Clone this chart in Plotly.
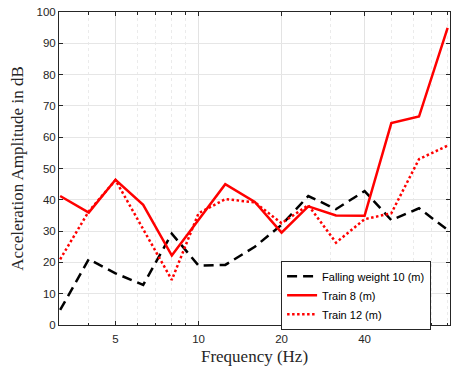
import plotly.graph_objects as go
import math

freq = [3.15, 4, 5, 6.3, 8, 10, 12.5, 16, 20, 25, 31.5, 40, 50, 63, 80]
falling_weight = [4.8, 21, 16.5, 12.8, 29.2, 19, 19.2, 25, 32, 41.2, 37, 42.8, 33.5, 37.3, 30.4]
train8 = [41.2, 35.9, 46.4, 38.4, 22.2, 33.5, 45, 39.3, 29.5, 37.9, 35, 34.9, 64.5, 66.6, 94.9]
train12 = [21, 36.3, 46.3, 30.5, 14.4, 35.7, 40.2, 39.2, 32.5, 38.3, 26.3, 33.8, 35.7, 53, 57.3]

series_names = ["Falling weight 10 (m)", "Train 8 (m)", "Train 12 (m)"]
x_major = [5, 10, 20, 40]
x_minor = [4, 6, 7, 8, 9, 30, 50, 60, 70, 80]
y_ticks = list(range(0, 101, 10))

axc = "#262626"
fig = go.Figure()
fig.add_trace(go.Scatter(x=freq, y=falling_weight, mode="lines", name=series_names[0],
                         line=dict(color="black", width=2.5, dash="10px,6px")))
fig.add_trace(go.Scatter(x=freq, y=train8, mode="lines", name=series_names[1],
                         line=dict(color="#ff0000", width=2.5)))
fig.add_trace(go.Scatter(x=freq, y=train12, mode="lines", name=series_names[2],
                         line=dict(color="#ff0000", width=2.5, dash="2.5px,2.5px")))

fig.update_layout(
    width=451, height=369,
    margin=dict(l=59, r=1, t=12, b=44),
    plot_bgcolor="white", paper_bgcolor="white",
    font=dict(family="Liberation Sans, Arial", size=11, color=axc),
    legend=dict(x=0.568, y=0.095, xanchor="left", yanchor="middle",
                bgcolor="white", bordercolor=axc, borderwidth=1,
                font=dict(family="Liberation Sans, Arial", size=11, color="black"),
                tracegroupgap=0),
    showlegend=True,
)
fig.update_xaxes(
    type="log", range=[math.log10(3.12), math.log10(81.6)],
    tickmode="array", tickvals=x_major, ticktext=[str(v) for v in x_major],
    ticks="inside", ticklen=4, tickcolor=axc, tickwidth=1,
    showline=True, linecolor=axc, linewidth=1, mirror="ticks",
    showgrid=True, gridcolor="#e3e3e3", gridwidth=1,
    minor=dict(tickmode="array", tickvals=x_minor, ticks="inside", ticklen=2.5,
               tickcolor=axc, showgrid=True, gridcolor="#ebebeb", griddash="dot", gridwidth=1),
    zeroline=False,
    ticklabelstandoff=3,
    tickfont=dict(size=11.5, color=axc),
    title=dict(text="Frequency (Hz)", font=dict(family="Liberation Serif, Times New Roman", size=17, color=axc),
               standoff=6),
)
fig.update_yaxes(
    range=[0, 100], tickmode="array", tickvals=y_ticks,
    ticks="inside", ticklen=4, tickcolor=axc, tickwidth=1,
    showline=True, linecolor=axc, linewidth=1, mirror="ticks",
    showgrid=True, gridcolor="#e6e6e6", gridwidth=1, zeroline=False,
    tickfont=dict(size=11.5, color=axc),
    title=dict(text="Acceleration Amplitude in dB", font=dict(family="Liberation Serif, Times New Roman", size=17, color=axc),
               standoff=8),
)
fig.write_html("out.html")
